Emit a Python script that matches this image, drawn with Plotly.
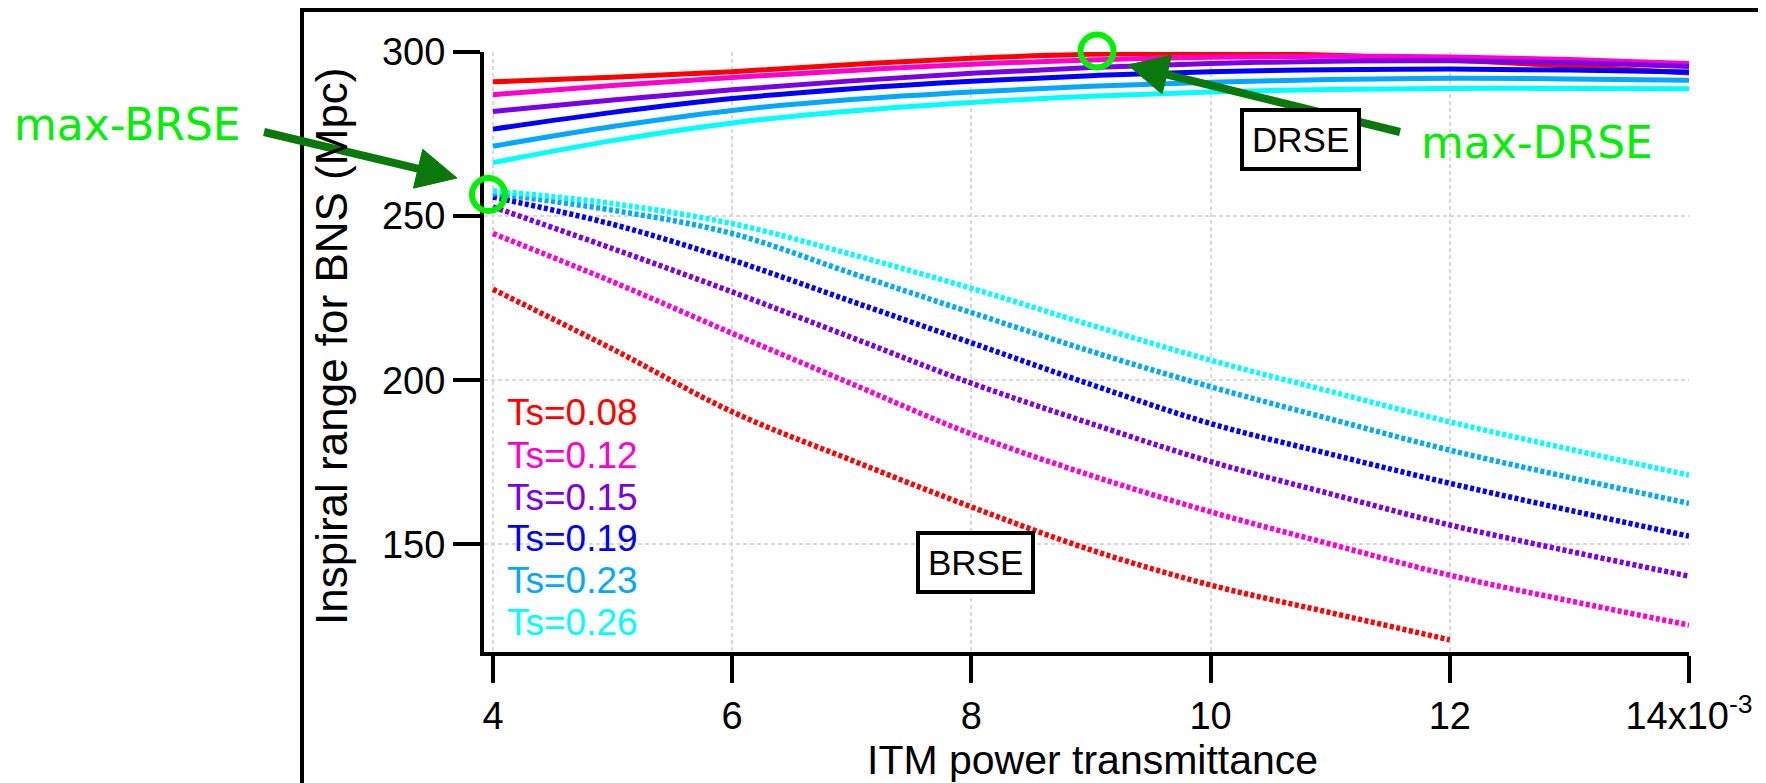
import math
import plotly.graph_objects as go

# ---------------- data ----------------
itm_T = [0.004, 0.005, 0.006, 0.007, 0.008, 0.009, 0.010, 0.011, 0.012, 0.013, 0.014]

ts_labels = ["Ts=0.08", "Ts=0.12", "Ts=0.15", "Ts=0.19", "Ts=0.23", "Ts=0.26"]
ts_colors = ["#ff0000", "#ff00cc", "#7a00e6", "#0000ff", "#00a8ff", "#00ffff"]

# DRSE (solid curves), Mpc
drse_008 = [290.9, 292.3, 294.0, 296.2, 298.1, 299.3, 299.6, 299.0, 297.6, 295.7, 293.6]
drse_012 = [287.0, 289.8, 292.2, 294.4, 296.3, 297.6, 298.4, 298.7, 298.5, 297.7, 296.5]
drse_015 = [281.9, 285.4, 288.5, 291.2, 293.5, 295.3, 296.5, 297.2, 297.3, 296.7, 295.6]
drse_019 = [276.5, 281.6, 285.8, 288.8, 291.1, 292.8, 294.0, 294.6, 294.8, 294.5, 293.9]
drse_023 = [271.3, 277.3, 282.2, 285.5, 287.8, 289.6, 290.8, 291.6, 292.0, 291.8, 291.4]
drse_026 = [266.3, 273.0, 278.4, 282.0, 284.6, 286.5, 287.8, 288.6, 288.9, 288.9, 288.8]

# BRSE (dotted curves), Mpc
brse_008 = [227.7, 209.5, 190.4, 175.6, 161.4, 148.3, 137.6, 129.2, 120.9]
brse_012 = [244.7, 230.0, 214.3, 198.9, 183.6, 171.0, 159.9, 150.1, 140.6, 132.8, 125.4]
brse_015 = [252.8, 240.1, 226.9, 213.0, 199.1, 186.8, 175.2, 165.4, 155.9, 147.9, 140.3]
brse_019 = [255.8, 247.5, 236.6, 224.0, 211.4, 198.7, 186.8, 177.5, 168.6, 160.4, 152.5]
brse_023 = [256.9, 251.8, 244.7, 232.6, 220.6, 208.8, 198.0, 188.2, 178.7, 170.4, 162.5]
brse_026 = [257.7, 253.8, 247.7, 238.3, 228.0, 216.8, 206.1, 196.6, 187.3, 179.0, 171.1]

drse_all = [drse_008, drse_012, drse_015, drse_019, drse_023, drse_026]
brse_all = [brse_008, brse_012, brse_015, brse_019, brse_023, brse_026]

x_tickvals = [0.004, 0.006, 0.008, 0.010, 0.012, 0.014]
x_ticktext = ["4", "6", "8", "10", "12", "14x10<sup>-3</sup>"]
y_tickvals = [150, 200, 250, 300]

# ---------------- figure ----------------
FONT = "Liberation Sans, Arial, sans-serif"
HAND = "DejaVu Sans, sans-serif"
BRIGHT = "#00ee00"
DARK = "#0a780a"

fig = go.Figure()
for ys, c in zip(drse_all, ts_colors):
    fig.add_trace(go.Scatter(x=itm_T[:len(ys)], y=ys, mode="lines",
                             line=dict(color=c, width=5, shape="spline", smoothing=1.0),
                             showlegend=False, hoverinfo="skip"))
for ys, c in zip(brse_all, ts_colors):
    fig.add_trace(go.Scatter(x=itm_T[:len(ys)], y=ys, mode="lines",
                             line=dict(color=c, width=5.5, dash="4px,2.5px", shape="spline", smoothing=1.0),
                             showlegend=False, hoverinfo="skip"))

OFF = 8                      # page offset of the plot div (body margin)
W, H = 1766 - OFF, 783 - OFF
L, T = 484 - OFF, 52 - OFF   # plot area left / top (page px 484 / 52)
R = W - (1689 - OFF)         # plot right edge at page px 1689
B = H - (652 - OFF)          # plot bottom at page px 652
pw, ph = W - L - R, H - T - B


def px(xp):
    """page x pixel -> paper x"""
    return (xp - OFF - L) / pw


def py(yp):
    """page y pixel -> paper y"""
    return (H - B - (yp - OFF)) / ph


axis_common = dict(
    showline=True, linewidth=4, linecolor="black",
    ticks="outside", ticklen=27, tickwidth=4, tickcolor="black",
    showgrid=True, gridcolor="#d9d9d9", gridwidth=1.5, griddash="4px,3px",
    zeroline=False, tickfont=dict(family=FONT, size=38, color="black"),
)

fig.update_layout(
    width=W, height=H,
    margin=dict(l=L, r=R, t=T, b=B, pad=0),
    paper_bgcolor="white", plot_bgcolor="white",
    xaxis=dict(range=[0.003925, 0.014], tickvals=x_tickvals, ticktext=x_ticktext, **axis_common),
    yaxis=dict(range=[117.2, 300], tickvals=y_tickvals, **axis_common),
    showlegend=False,
)

ann = []
# axis titles
ann.append(dict(text="Inspiral range for BNS (Mpc)", xref="paper", yref="paper",
                x=px(331), y=py(346), textangle=-90, showarrow=False,
                xanchor="center", yanchor="middle",
                font=dict(family=FONT, size=44, color="black")))
ann.append(dict(text="ITM power transmittance", xref="paper", yref="paper",
                x=px(1092), y=py(759.5), showarrow=False,
                xanchor="center", yanchor="middle",
                font=dict(family=FONT, size=41, color="black")))
# legend texts
leg_centers = [412, 455, 497, 538, 580, 622]
for lab, c, yc in zip(ts_labels, ts_colors, leg_centers):
    ann.append(dict(text=lab, xref="paper", yref="paper", x=px(505), y=py(yc),
                    showarrow=False, xanchor="left", yanchor="middle",
                    font=dict(family=FONT, size=37, color=c)))
# boxed labels
for lab, cx, cy in [("BRSE", 975, 562), ("DRSE", 1300, 140)]:
    ann.append(dict(text=lab, xref="paper", yref="paper", x=px(cx), y=py(cy),
                    showarrow=False, xanchor="center", yanchor="middle",
                    font=dict(family=FONT, size=35, color="black"),
                    bgcolor="white", bordercolor="black", borderwidth=4, borderpad=8))
# green labels
ann.append(dict(text="max-BRSE", xref="paper", yref="paper", x=px(127), y=py(124),
                showarrow=False, xanchor="center", yanchor="middle",
                font=dict(family=HAND, size=44, color=BRIGHT)))
ann.append(dict(text="max-DRSE", xref="paper", yref="paper", x=px(1537), y=py(142),
                showarrow=False, xanchor="center", yanchor="middle",
                font=dict(family=HAND, size=44, color=BRIGHT)))
fig.update_layout(annotations=ann)

shapes = []
# outer frame (left and top lines)
shapes.append(dict(type="line", xref="paper", yref="paper", x0=px(302), x1=px(302),
                   y0=py(10), y1=py(800), line=dict(color="black", width=4)))
shapes.append(dict(type="line", xref="paper", yref="paper", x0=px(300), x1=px(1790),
                   y0=py(10), y1=py(10), line=dict(color="black", width=4)))
# green circles
for cx, cy in [(488.5, 194.5), (1097, 51)]:
    shapes.append(dict(type="circle", xref="paper", yref="paper",
                       xsizemode="pixel", ysizemode="pixel",
                       xanchor=px(cx), yanchor=py(cy),
                       x0=-16.5, x1=16.5, y0=-16.5, y1=16.5,
                       line=dict(color=BRIGHT, width=6)))
# dark green arrows (shaft + triangular head), page-pixel geometry
HEAD_L, HEAD_HW = 40, 20
for (sx, sy), (tx, ty) in [((264, 132), (457, 178)), ((1400, 132), (1128, 65))]:
    dx, dy = tx - sx, ty - sy
    ln = math.hypot(dx, dy)
    ux, uy = dx / ln, dy / ln
    bx, by = tx - HEAD_L * ux, ty - HEAD_L * uy
    nx, ny = -uy, ux
    shapes.append(dict(type="line", xref="paper", yref="paper",
                       x0=px(sx), y0=py(sy), x1=px(bx + 4 * ux), y1=py(by + 4 * uy),
                       line=dict(color=DARK, width=8)))
    c1 = (bx + HEAD_HW * nx, by + HEAD_HW * ny)
    c2 = (bx - HEAD_HW * nx, by - HEAD_HW * ny)
    path = "M {:.5f},{:.5f} L {:.5f},{:.5f} L {:.5f},{:.5f} Z".format(
        px(tx), py(ty), px(c1[0]), py(c1[1]), px(c2[0]), py(c2[1]))
    shapes.append(dict(type="path", xref="paper", yref="paper", path=path,
                       fillcolor=DARK, line=dict(color=DARK, width=1)))
fig.update_layout(shapes=shapes)

fig.write_html("out.html")
